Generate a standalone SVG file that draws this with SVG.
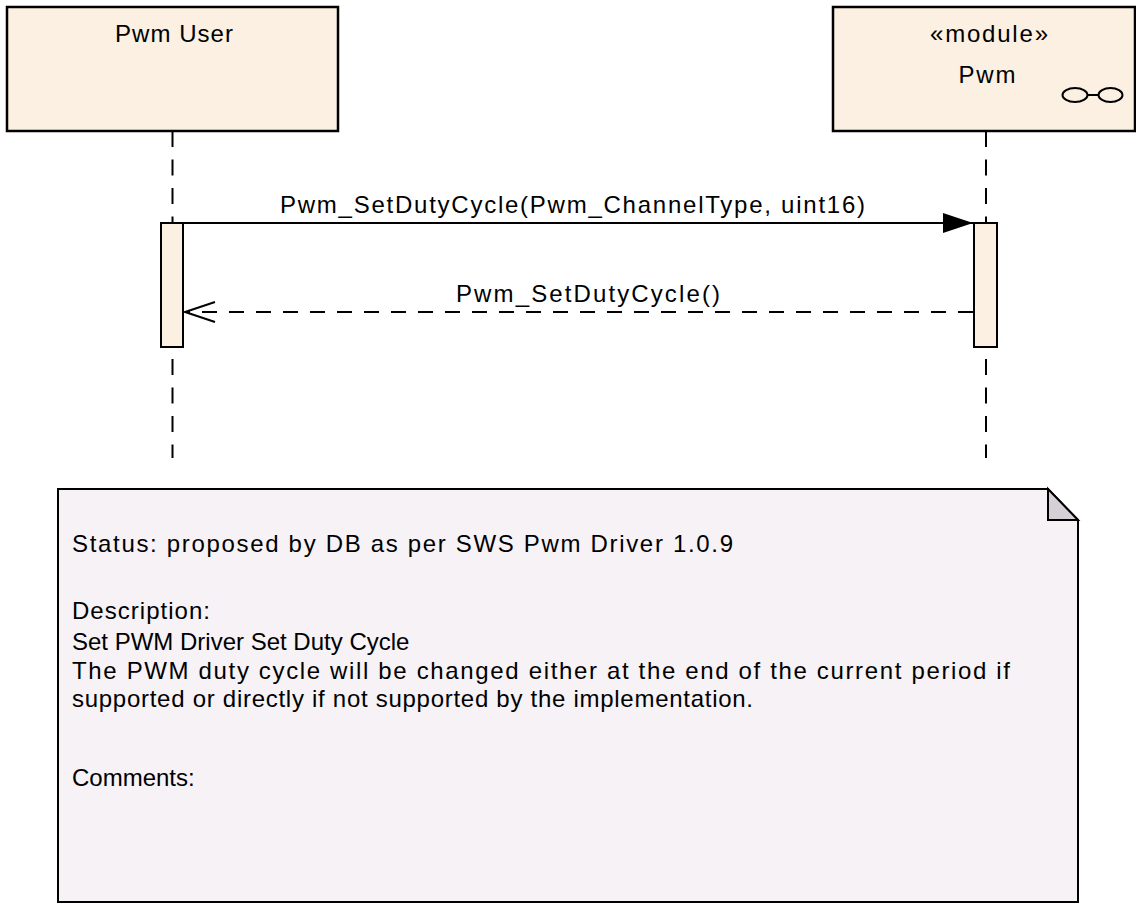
<svg xmlns="http://www.w3.org/2000/svg" width="1136" height="903" viewBox="0 0 1136 903">
  <style>
    .box{fill:#fbf0e2;stroke:#000;stroke-width:2.5}
    .bar{fill:#fbf0e2;stroke:#000;stroke-width:2}
    .life{fill:none;stroke:#000;stroke-width:2;stroke-dasharray:16 12.5}
    .t{font-family:"Liberation Sans",Arial,sans-serif;font-size:24px;fill:#000}
    .msg{fill:none;stroke:#000;stroke-width:2}
    .ret{fill:none;stroke:#000;stroke-width:2;stroke-dasharray:15 12}
    .note{fill:#f6f2f6;stroke:#000;stroke-width:2}
    .fold{fill:#d5d0d5;stroke:#000;stroke-width:2;stroke-linejoin:miter}
  </style>
  <defs>
    <marker id="filled" markerUnits="userSpaceOnUse" markerWidth="32" markerHeight="22" refX="30" refY="11" orient="auto">
      <path d="M0,1 L30,11 L0,21 Z" fill="#000"/>
    </marker>
    <marker id="open" markerUnits="userSpaceOnUse" markerWidth="36" markerHeight="26" refX="32" refY="12" orient="auto">
      <path d="M2,2 L32,12 L2,22" fill="none" stroke="#000" stroke-width="2"/>
    </marker>
  </defs>
  <rect width="1136" height="903" fill="#fff"/>

  <g id="node-pwm-user">
    <rect class="box" x="7" y="7" width="331" height="124"/>
    <text class="t" x="174" y="42" text-anchor="middle" textLength="118" lengthAdjust="spacing">Pwm User</text>
    <line class="life" x1="172.5" y1="131" x2="172.5" y2="458"/>
  </g>

  <g id="node-pwm">
    <rect class="box" x="833" y="7" width="302" height="124"/>
    <text class="t" x="989" y="42" text-anchor="middle" textLength="118" lengthAdjust="spacing">«module»</text>
    <text class="t" x="987" y="83" text-anchor="middle" textLength="57" lengthAdjust="spacing">Pwm</text>
    <ellipse cx="1075" cy="95" rx="12.5" ry="7" fill="none" stroke="#000" stroke-width="2"/>
    <ellipse cx="1110.5" cy="95" rx="12" ry="7" fill="none" stroke="#000" stroke-width="2"/>
    <line x1="1087.5" y1="95" x2="1098.5" y2="95" stroke="#000" stroke-width="2"/>
    <line class="life" x1="986" y1="131" x2="986" y2="458"/>
  </g>

  <g id="activations">
    <rect class="bar" x="161" y="223" width="22" height="124"/>
    <rect class="bar" x="974" y="223" width="23" height="124"/>
  </g>

  <g id="connectors">
    <line class="msg" x1="184" y1="223" x2="973" y2="223" marker-end="url(#filled)"/>
    <text class="t" x="572.5" y="213" text-anchor="middle" textLength="585" lengthAdjust="spacing">Pwm_SetDutyCycle(Pwm_ChannelType, uint16)</text>
    <line class="ret" x1="973" y1="312" x2="185" y2="312" marker-end="url(#open)"/>
    <text class="t" x="588" y="302" text-anchor="middle" textLength="264" lengthAdjust="spacing">Pwm_SetDutyCycle()</text>
  </g>

  <g id="note">
    <path class="note" d="M58,489 L1048,489 L1078,520 L1078,902 L58,902 Z"/>
    <path class="fold" d="M1048,489 L1048,520 L1078,520 Z"/>
    <text class="t" x="72" y="552" textLength="661" lengthAdjust="spacing">Status: proposed by DB as per SWS Pwm Driver 1.0.9</text>
    <text class="t" x="72" y="619" textLength="138" lengthAdjust="spacing">Description:</text>
    <text class="t" x="72" y="650">Set PWM Driver Set Duty Cycle</text>
    <text class="t" x="72" y="679" textLength="938" lengthAdjust="spacing">The PWM duty cycle will be changed either at the end of the current period if</text>
    <text class="t" x="72" y="707" textLength="681" lengthAdjust="spacing">supported or directly if not supported by the implementation.</text>
    <text class="t" x="72" y="786">Comments:</text>
  </g>
</svg>
